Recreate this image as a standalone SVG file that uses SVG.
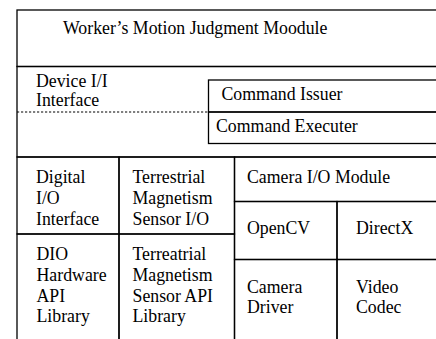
<svg xmlns="http://www.w3.org/2000/svg" width="436" height="339" viewBox="0 0 436 339">
<style>
.box{fill:none;stroke:#000;stroke-width:1.3}
.dot{fill:none;stroke:#000;stroke-width:1.1;stroke-dasharray:2.2 1.8}
text{font-family:"Liberation Serif","Times New Roman",serif;font-size:17.8px;fill:#000}
</style>
<rect x="0" y="0" width="436" height="339" fill="#fff"/>
<g id="judgment-module">
<rect class="box" x="17" y="10" width="425" height="56.5"/>
<text x="63" y="34">Worker’s Motion Judgment Moodule</text>
</g>
<g id="device-interface">
<rect class="box" x="17" y="66.5" width="425" height="90.5"/>
<line class="dot" x1="17" y1="112" x2="208.5" y2="112"/>
<text x="36" y="87">Device I/I</text>
<text x="36" y="106">Interface</text>
</g>
<g id="command-issuer">
<rect class="box" x="208.5" y="80" width="233" height="32"/>
<text x="221.5" y="99.5">Command Issuer</text>
</g>
<g id="command-executer">
<rect class="box" x="208.5" y="112" width="233" height="31.5"/>
<text x="216" y="131.5">Command Executer</text>
</g>
<g id="digital-io">
<rect class="box" x="17" y="157" width="102" height="77"/>
<text x="36" y="183">Digital</text>
<text x="36" y="204">I/O</text>
<text x="36" y="225">Interface</text>
</g>
<g id="terrestrial-io">
<rect class="box" x="119" y="157" width="115.5" height="77"/>
<text x="132.5" y="183">Terrestrial</text>
<text x="132.5" y="204">Magnetism</text>
<text x="132.5" y="225">Sensor I/O</text>
</g>
<g id="camera-io">
<rect class="box" x="234.5" y="157" width="207" height="44.5"/>
<text x="247" y="182.7">Camera I/O Module</text>
</g>
<g id="opencv">
<rect class="box" x="234.5" y="201.5" width="102.5" height="58"/>
<text x="247" y="233.5">OpenCV</text>
</g>
<g id="directx">
<rect class="box" x="337" y="201.5" width="104.5" height="58"/>
<text x="356" y="233.5">DirectX</text>
</g>
<g id="dio-library">
<rect class="box" x="17" y="234" width="102" height="110"/>
<text x="36.5" y="260">DIO</text>
<text x="36.5" y="281">Hardware</text>
<text x="36.5" y="301.7">API</text>
<text x="36.5" y="322.3">Library</text>
</g>
<g id="terrestrial-library">
<rect class="box" x="119" y="234" width="115.5" height="110"/>
<text x="132.5" y="260">Terreatrial</text>
<text x="132.5" y="281">Magnetism</text>
<text x="132.5" y="301.7">Sensor API</text>
<text x="132.5" y="322.3">Library</text>
</g>
<g id="camera-driver">
<rect class="box" x="234.5" y="259.5" width="102.5" height="85"/>
<text x="247" y="292.7">Camera</text>
<text x="247" y="313.3">Driver</text>
</g>
<g id="video-codec">
<rect class="box" x="337" y="259.5" width="104.5" height="85"/>
<text x="356" y="292.7">Video</text>
<text x="356" y="313.3">Codec</text>
</g>
</svg>
